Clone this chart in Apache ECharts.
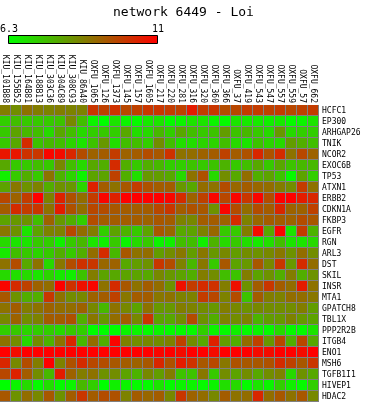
<!DOCTYPE html>
<html><head><meta charset="utf-8">
<script src="https://cdn.jsdelivr.net/npm/echarts@6/dist/echarts.min.js"></script>
<style>html,body{margin:0;padding:0;background:#fff}#c{width:366px;height:403px}</style>
</head><body><div id="c"></div>
<script>
const samples = ["KIU_101B88","KIU_155B52","KIU_164B81","KIU_188B13","KIU_303C36","KIU_304C89","KIU_308C93","KIU_86A40","OXFU_1065","OXFU_126","OXFU_1373","OXFU_145","OXFU_157","OXFU_1605","OXFU_217","OXFU_220","OXFU_281","OXFU_316","OXFU_320","OXFU_360","OXFU_366","OXFU_37","OXFU_419","OXFU_543","OXFU_547","OXFU_557","OXFU_559","OXFU_57","OXFU_662"];
const genes = ["HCFC1","EP300","ARHGAP26","TNIK","NCOR2","EXOC6B","TP53","ATXN1","ERBB2","CDKN1A","FKBP3","EGFR","RGN","ARL3","DST","SKIL","INSR","MTA1","GPATCH8","TBL1X","PPP2R2B","ITGB4","ENO1","MSH6","TGFB1I1","HIVEP1","HDAC2"];
const scaleMin = 6.3, scaleMax = 11;
const scaleColors = ['#00ff00', '#ff0000'];
const values = [
[8.7,8.4,8.9,8.7,8.6,8.7,8.6,8.6,10.0,9.8,10.1,9.7,9.8,10.0,10.0,9.9,9.8,10.5,9.9,10.0,9.6,9.7,9.9,9.9,9.8,9.9,9.7,9.8,9.9],
[7.2,7.5,7.3,7.3,7.3,7.4,8.5,7.5,6.5,6.3,6.8,6.5,6.4,6.7,6.8,6.4,6.5,6.8,6.8,6.5,6.4,6.8,6.7,6.7,6.6,6.7,6.4,6.5,6.8],
[7.3,8.0,7.6,7.5,7.0,7.9,7.5,7.0,7.2,7.3,7.2,7.9,6.9,7.0,7.6,7.2,7.9,7.5,7.3,7.4,8.1,7.4,7.6,7.3,7.0,8.2,7.0,7.2,7.2],
[7.3,7.9,10.2,7.4,7.6,7.5,7.1,6.8,7.4,8.2,6.9,7.5,7.5,7.2,8.4,7.5,6.9,6.9,7.1,7.1,7.5,7.0,6.8,7.4,7.1,7.0,8.1,7.8,7.5],
[10.6,10.6,10.1,10.0,10.9,10.8,10.3,9.6,9.2,9.3,9.9,9.2,9.3,9.6,9.4,10.1,8.9,9.0,9.2,9.3,9.8,9.3,9.5,10.3,9.5,10.2,8.9,9.7,9.2],
[7.9,7.3,7.3,7.5,7.3,8.5,7.5,7.0,7.9,7.8,10.2,7.8,7.3,7.8,7.6,7.2,7.2,7.4,7.3,7.4,7.7,7.3,7.5,7.9,7.3,7.9,7.4,7.6,7.6],
[6.6,7.3,7.8,7.3,8.9,7.7,7.1,6.5,8.0,8.0,9.8,7.8,6.9,8.2,8.1,7.9,7.0,8.9,9.5,7.0,8.4,7.9,9.0,7.8,8.0,7.4,6.4,8.0,7.2],
[8.0,8.8,8.3,8.6,7.8,8.3,8.2,7.1,10.4,9.3,8.9,9.4,9.9,9.5,9.3,9.3,8.2,7.9,9.0,8.9,9.6,9.1,9.3,9.1,9.0,8.7,8.4,9.9,8.9],
[9.7,9.2,9.9,11.0,8.6,10.4,9.5,9.0,9.9,10.9,10.4,11.0,11.0,11.0,11.0,10.9,10.2,9.2,9.8,10.9,9.7,10.9,10.0,10.9,9.6,11.0,11.0,10.5,10.3],
[9.3,10.2,9.9,10.0,8.9,10.5,9.5,9.0,9.7,9.6,9.4,9.3,9.3,9.3,9.7,10.0,9.3,9.5,9.4,8.3,10.9,9.6,9.0,9.6,9.3,10.3,9.2,9.2,9.8],
[8.0,8.2,8.3,7.5,9.2,8.2,7.8,7.2,9.6,9.3,9.3,9.3,9.3,9.2,9.4,9.3,8.6,8.5,9.3,9.3,9.2,10.2,8.6,9.1,9.3,9.3,9.2,9.6,9.4],
[8.8,8.3,6.8,8.0,8.6,8.6,9.7,9.0,8.7,7.2,8.0,7.7,7.3,8.0,9.4,9.1,7.9,8.0,8.6,9.1,7.3,7.3,8.7,10.8,7.9,10.9,6.8,9.9,7.7],
[7.0,6.8,6.8,7.3,7.2,6.6,7.3,7.6,6.8,6.6,7.3,6.5,7.0,7.3,6.5,6.6,7.5,7.5,6.6,7.7,7.0,7.3,6.9,6.7,6.9,7.5,6.8,6.8,7.0],
[6.7,7.5,7.3,7.1,7.3,7.8,7.3,7.8,9.0,10.2,7.6,9.4,8.9,9.0,8.1,8.4,8.8,8.1,8.8,8.2,8.5,8.1,8.4,8.3,8.5,8.8,8.3,9.0,8.4],
[8.9,9.6,7.9,8.9,7.0,8.8,9.6,10.1,10.0,9.1,9.2,7.9,8.1,8.3,10.0,9.6,8.6,7.6,8.8,7.3,9.4,8.0,8.2,9.4,8.5,10.0,8.2,10.2,9.0],
[7.0,6.9,7.0,6.8,7.1,6.7,6.6,7.4,8.7,8.0,7.9,8.0,8.0,7.9,8.5,8.2,8.0,7.8,8.7,8.4,7.5,7.4,8.7,8.0,8.3,7.8,8.7,7.8,8.3],
[10.9,10.2,9.8,9.2,9.0,11.0,10.1,10.7,10.9,8.9,10.2,9.4,8.9,9.3,9.0,8.3,10.7,9.9,10.2,10.1,8.7,10.7,8.3,9.3,10.0,9.3,9.0,10.5,8.9],
[9.4,8.3,7.8,7.8,10.0,8.9,8.4,8.5,9.2,9.3,9.8,8.8,9.3,9.3,8.8,8.9,8.6,8.6,9.9,9.7,8.6,9.6,7.4,9.3,8.7,8.6,9.0,9.0,8.8],
[8.9,9.3,8.7,8.9,9.2,9.0,9.0,9.2,8.5,7.6,8.9,8.5,8.0,8.9,8.2,8.2,8.7,8.6,8.4,8.2,8.7,8.5,8.3,8.5,8.4,8.4,8.4,8.7,8.1],
[8.5,9.2,8.4,8.6,9.3,9.3,9.5,7.8,8.8,8.2,9.0,9.3,8.5,10.0,8.0,7.9,8.4,9.6,8.3,7.8,8.6,8.4,8.6,7.7,8.1,8.2,8.6,8.2,8.0],
[7.2,7.3,7.1,7.2,7.2,7.0,7.3,7.2,6.3,6.3,6.3,6.5,6.5,6.4,6.5,6.4,6.4,6.4,7.2,6.5,6.4,6.6,6.4,6.5,6.4,7.0,6.4,6.4,6.8],
[8.9,8.4,7.0,8.4,7.7,8.9,10.3,7.6,9.0,7.8,10.9,8.6,8.4,8.5,8.4,8.6,9.8,8.4,7.9,10.4,8.1,7.8,9.0,9.8,8.2,9.7,7.8,9.7,7.9],
[11.0,10.8,11.0,11.0,11.0,11.0,11.0,11.0,11.0,11.0,11.0,11.0,11.0,11.0,10.9,11.0,10.8,11.0,11.0,10.8,11.0,11.0,11.0,10.8,10.8,11.0,11.0,10.8,11.0],
[10.3,8.5,9.6,8.7,11.0,8.6,9.5,10.2,9.7,9.6,9.4,9.3,9.2,9.4,10.3,9.5,10.5,10.1,9.4,9.7,8.8,9.5,9.4,9.4,9.5,10.2,9.8,9.4,10.0],
[9.7,10.4,9.3,8.4,7.6,10.5,9.2,8.7,8.9,8.3,8.4,8.0,7.7,8.5,8.1,8.7,7.4,7.4,8.8,7.3,8.4,8.0,8.4,7.9,8.4,8.6,7.0,8.3,7.9],
[6.3,6.5,7.0,6.4,6.9,6.4,6.5,7.6,7.2,6.3,6.6,6.5,6.4,6.4,6.8,6.4,6.5,6.5,6.4,6.5,6.9,7.0,6.4,6.8,6.5,7.2,6.6,6.4,7.2],
[9.4,8.3,9.0,8.5,9.4,8.3,9.3,10.0,9.3,9.6,9.5,8.6,9.3,9.1,9.3,8.5,10.0,9.2,9.0,8.5,9.3,8.9,9.0,10.3,9.0,9.4,8.9,9.4,8.5]
];

const cells = [];
values.forEach((row, r) => row.forEach((v, c) => cells.push([c, r, v])));

const FONT = 'DejaVu Sans Mono';
const chart = echarts.init(document.getElementById('c'), null, {renderer: 'canvas'});
chart.setOption({
  animation: false,
  title: {
    text: 'network 6449 - Loi', left: 108, top: 1,
    textStyle: {fontFamily: FONT, fontSize: 13, fontWeight: 'normal', color: '#000'}
  },
  grid: {left: 0, top: 105, width: 319, height: 297, show: true, backgroundColor: '#808080', borderWidth: 0},
  xAxis: {
    type: 'category', data: samples, position: 'top',
    axisLine: {show: false}, axisTick: {show: false}, splitLine: {show: false},
    axisLabel: {rotate: 90, interval: 0, margin: 2, fontFamily: FONT, fontSize: 8, color: '#000'}
  },
  yAxis: {
    type: 'category', data: genes, inverse: true, position: 'right',
    axisLine: {show: false}, axisTick: {show: false}, splitLine: {show: false},
    axisLabel: {interval: 0, margin: 3, fontFamily: FONT, fontSize: 8, color: '#000'}
  },
  visualMap: {
    show: false, type: 'continuous', min: scaleMin, max: scaleMax, dimension: 2, seriesIndex: 0,
    inRange: {color: scaleColors}
  },
  graphic: [
    {type: 'rect', shape: {x: 8.5, y: 35.5, width: 149, height: 8},
     style: {stroke: '#000', lineWidth: 1,
       fill: new echarts.graphic.LinearGradient(0, 0, 1, 0, [{offset: 0, color: scaleColors[0]}, {offset: 1, color: scaleColors[1]}])}},
    {type: 'text', x: 0, y: 34, style: {text: String(scaleMin), font: '10px ' + FONT, fill: '#000', align: 'left', verticalAlign: 'bottom'}},
    {type: 'text', x: 158, y: 34, style: {text: String(scaleMax), font: '10px ' + FONT, fill: '#000', align: 'center', verticalAlign: 'bottom'}}
  ],
  series: [{
    type: 'custom',
    data: cells,
    encode: {x: 0, y: 1},
    renderItem: function (params, api) {
      const p = api.coord([api.value(0), api.value(1)]);
      const s = api.size([1, 1]);
      return {
        type: 'rect',
        shape: {x: Math.round(p[0] - s[0] / 2), y: Math.round(p[1] - s[1] / 2), width: Math.round(s[0]) - 1, height: Math.round(s[1]) - 1},
        style: {fill: api.visual('color')}
      };
    }
  }]
});
</script></body></html>
